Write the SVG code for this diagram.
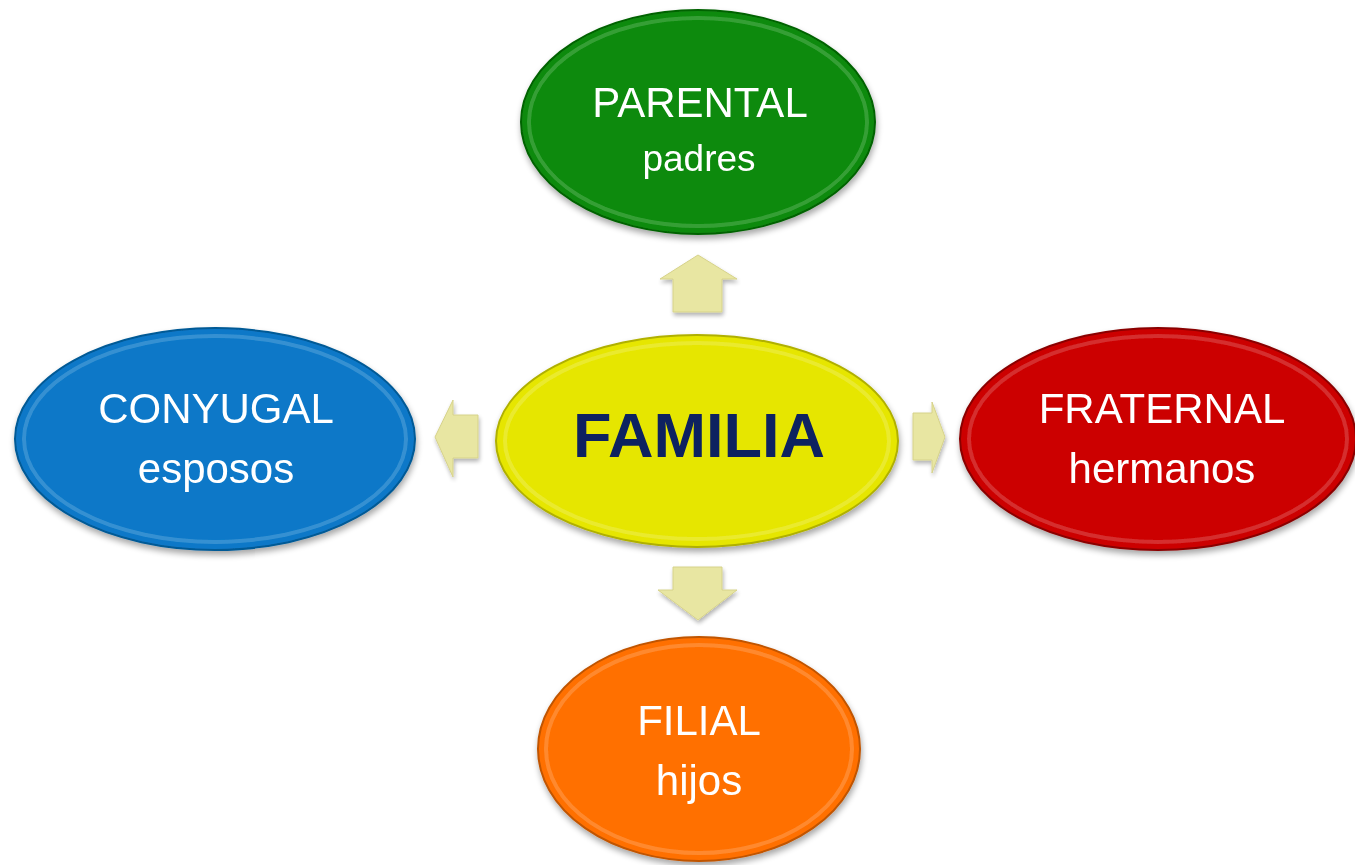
<svg xmlns="http://www.w3.org/2000/svg" width="1355" height="865" viewBox="0 0 1355 865">
<defs>
<filter id="sh" x="-10%" y="-10%" width="120%" height="130%">
<feGaussianBlur in="SourceAlpha" stdDeviation="3"/>
<feOffset dx="1" dy="4" result="b"/>
<feComponentTransfer><feFuncA type="linear" slope="0.35"/></feComponentTransfer>
<feMerge><feMergeNode/><feMergeNode in="SourceGraphic"/></feMerge>
</filter>
<filter id="ash" x="-30%" y="-30%" width="160%" height="160%">
<feGaussianBlur in="SourceAlpha" stdDeviation="2"/>
<feOffset dx="1" dy="3"/>
<feComponentTransfer><feFuncA type="linear" slope="0.3"/></feComponentTransfer>
<feMerge><feMergeNode/><feMergeNode in="SourceGraphic"/></feMerge>
</filter>
</defs>
<style>
.lbl{font-family:"Liberation Sans",Arial,sans-serif;fill:#ffffff;font-size:42px;text-anchor:middle}
.small{font-size:37px}
.main{font-family:"Liberation Sans",Arial,sans-serif;fill:#0b2060;font-size:63px;font-weight:bold;text-anchor:middle}
.bevel{fill:none;stroke:#ffffff;stroke-opacity:0.18;stroke-width:4}
.arrow{fill:#e8e6a2;stroke:#d6d28a;stroke-width:1;filter:url(#ash)}
</style>
<rect width="1355" height="865" fill="#ffffff"/>
<g id="connectors">
<polygon class="arrow" points="698,255 737,279 722,279 722,312 673,312 673,279 660,279"/>
<polygon class="arrow" points="698,620 737,590 722,590 722,567 673,567 673,590 658,590"/>
<polygon class="arrow" points="435,437 453,400 453,415 478,415 478,458 453,458 453,477"/>
<polygon class="arrow" points="945,437 932,402 932,413 913,413 913,460 932,460 932,473"/>
</g>
<g id="parental" filter="url(#sh)">
<ellipse cx="698" cy="122" rx="177" ry="112" fill="#0a8a0a" stroke="#066206" stroke-width="2"/>
<ellipse class="bevel" cx="698" cy="122" rx="169" ry="104"/>
<text class="lbl" x="700" y="117">PARENTAL</text>
<text class="lbl small" x="699" y="171">padres</text>
</g>
<g id="familia" filter="url(#sh)">
<ellipse cx="697" cy="441" rx="201" ry="106" fill="#e6e600" stroke="#b0b000" stroke-width="2"/>
<ellipse class="bevel" cx="697" cy="441" rx="192" ry="98"/>
<text class="main" x="699" y="457">FAMILIA</text>
</g>
<g id="conyugal" filter="url(#sh)">
<ellipse cx="215" cy="439" rx="200" ry="111" fill="#0a78c8" stroke="#065a96" stroke-width="2"/>
<ellipse class="bevel" cx="215" cy="439" rx="191" ry="103"/>
<text class="lbl" x="216" y="423">CONYUGAL</text>
<text class="lbl" x="216" y="483">esposos</text>
</g>
<g id="fraternal" filter="url(#sh)">
<ellipse cx="1158" cy="439" rx="198" ry="111" fill="#cc0000" stroke="#8a0000" stroke-width="2"/>
<ellipse class="bevel" cx="1158" cy="439" rx="189" ry="103"/>
<text class="lbl" x="1162" y="423">FRATERNAL</text>
<text class="lbl" x="1162" y="483">hermanos</text>
</g>
<g id="filial" filter="url(#sh)">
<ellipse cx="699" cy="749" rx="161" ry="112" fill="#ff7000" stroke="#c05400" stroke-width="2"/>
<ellipse class="bevel" cx="699" cy="749" rx="153" ry="104"/>
<text class="lbl" x="699" y="735">FILIAL</text>
<text class="lbl" x="699" y="795">hijos</text>
</g>
</svg>
